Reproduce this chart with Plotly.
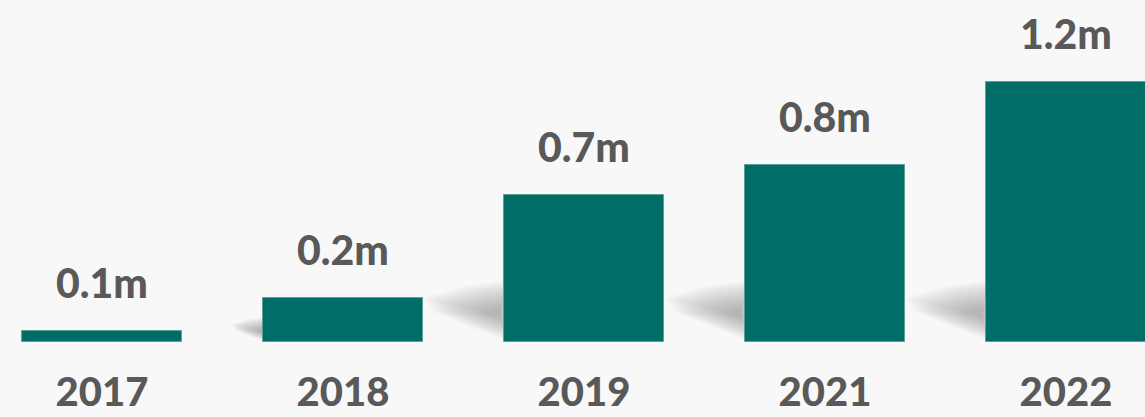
import plotly.graph_objects as go

years = ["2017", "2018", "2019", "2021", "2022"]
values = [0.051, 0.203, 0.678, 0.817, 1.2]
labels = ["0.1m", "0.2m", "0.7m", "0.8m", "1.2m"]

W, H = 1145, 417
BAR_COLOR = "#006d66"
TEXT_COLOR = "#595959"
BG = "#f9f8f9"
FONT = "Lato"

x_idx = list(range(len(years)))
x_range = [-0.423, 4.328]
y_range = [0, 1.578]
plot_h = 342
px_x = (x_range[1] - x_range[0]) / W
px_y = (y_range[1] - y_range[0]) / plot_h
bar_w = 0.664

fig = go.Figure()
fig.add_trace(go.Bar(
    x=x_idx, y=values, width=bar_w,
    marker=dict(color=BAR_COLOR, line=dict(color="#5f9e99", width=1)),
    hoverinfo="skip",
))

# soft cast shadows on the left of each bar
shapes = []
base_poly = [(2, -62), (-40, -56), (-80, -44), (-70, -30), (-30, -14), (2, -2)]
center = (-4, -28)
n_layers = 16
for i, v in enumerate(values):
    h_px = v / px_y
    s = min(1.0, h_px / 110.0)
    if s < 0.3:
        continue
    left = i - bar_w / 2
    for k in range(n_layers):
        f = 1.0 - k * (0.9 / n_layers)
        pts = []
        for (dx, dy) in base_poly:
            cx, cy = center
            px = (cx + (dx - cx) * f) * s
            py = (cy + (dy - cy) * f) * s
            pts.append((left + px * px_x, -py * px_y))
        path = "M " + " L ".join(f"{a:.5f},{b:.5f}" for a, b in pts) + " Z"
        shapes.append(dict(type="path", path=path, xref="x", yref="y",
                           fillcolor="rgba(110,110,110,0.03)",
                           line=dict(width=0), layer="below"))

annotations = []
for i, (v, lab) in enumerate(zip(values, labels)):
    annotations.append(dict(
        x=i, y=v, xref="x", yref="y", text=lab, showarrow=False,
        yanchor="bottom", yshift=22,
        font=dict(family=FONT, size=41, color=TEXT_COLOR, weight=900),
    ))

fig.update_layout(
    width=W, height=H,
    margin=dict(l=0, r=0, t=0, b=H - plot_h, autoexpand=False),
    paper_bgcolor=BG, plot_bgcolor=BG,
    showlegend=False,
    shapes=shapes, annotations=annotations,
    bargap=0,
    xaxis=dict(range=x_range, tickvals=x_idx, ticktext=years,
               showgrid=False, zeroline=False, showline=False, ticks="",
               ticklabelstandoff=23, automargin=False,
               tickfont=dict(family=FONT, size=40, color=TEXT_COLOR, weight=900),
               fixedrange=True),
    yaxis=dict(range=y_range, visible=False, showgrid=False, zeroline=False,
               automargin=False, fixedrange=True),
)

fig.write_html("out.html", config={"displayModeBar": False},
               post_script="document.body.style.margin='0';document.body.style.background='" + BG + "';")
